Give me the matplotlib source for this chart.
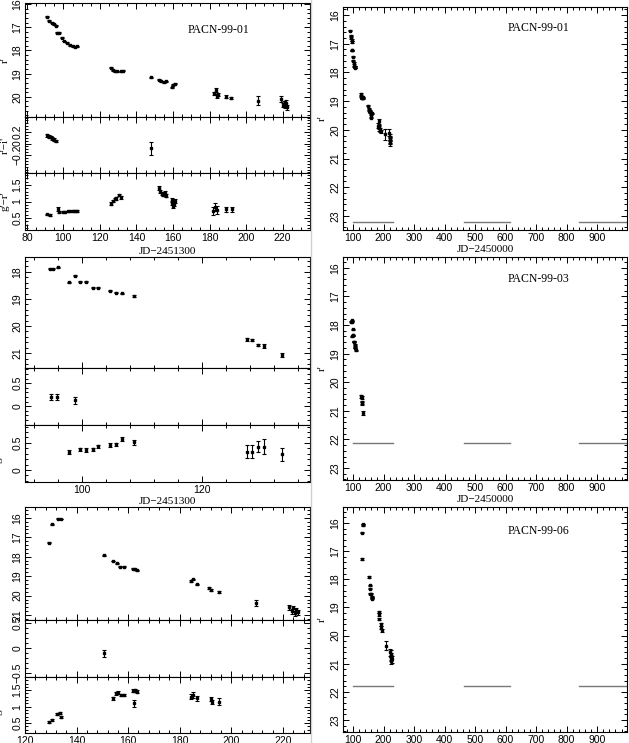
import matplotlib
matplotlib.use('Agg')
import matplotlib.pyplot as plt
from matplotlib.ticker import MultipleLocator, FixedLocator, FuncFormatter
from matplotlib.lines import Line2D

# ---------------- data ----------------
# PACN-99-01
t01 = [90.9, 92.3, 93.6, 94.9, 96.0, 96.7, 97.8, 99.1, 100.4, 101.8, 103.6, 105.1, 106.4, 107.6,
       125.8, 126.9, 128.2, 129.5, 131.3, 132.4,
       148.2, 152.4, 153.7, 155.0, 156.1, 159.2, 160.1, 161.0,
       182.5, 183.5, 184.0, 184.5, 189.0, 192.0, 206.3,
       219.0, 220.0, 221.0, 221.5, 222.0, 222.5]
r01 = [16.54, 16.72, 16.80, 16.87, 16.94, 17.23, 17.23, 17.45, 17.59, 17.67, 17.78, 17.81, 17.83, 17.81,
       18.75, 18.85, 18.90, 18.90, 18.90, 18.87,
       19.16, 19.26, 19.33, 19.38, 19.33, 19.58, 19.48, 19.43,
       19.85, 19.70, 19.95, 19.90, 20.00, 20.05, 20.16,
       20.10, 20.35, 20.30, 20.40, 20.25, 20.45]
r01_err = [0.02] * 28 + [0.08, 0.08, 0.08, 0.08, 0.06, 0.06, 0.18, 0.12, 0.1, 0.1, 0.1, 0.1, 0.1]

ti01 = [91.0, 92.0, 93.0, 94.0, 95.0, 96.0, 148.2]
ri01 = [0.14, 0.12, 0.11, 0.09, 0.07, 0.05, -0.085]
ri01_err = [0.02, 0.02, 0.02, 0.02, 0.02, 0.02, 0.115]

tg01 = [91.3, 92.6, 96.9, 97.8, 99.6, 101.1, 102.4, 103.6, 105.1, 106.4, 107.6,
        126.0, 126.9, 128.2, 128.7, 130.5, 131.3,
        152.3, 153.0, 153.9, 154.8, 155.7, 156.3, 159.2, 159.7, 160.1, 160.5, 161.0,
        182.0, 183.0, 184.0, 189.1, 192.2]
gr01 = [0.61, 0.59, 0.76, 0.68, 0.69, 0.69, 0.70, 0.70, 0.71, 0.71, 0.71,
        0.93, 1.01, 1.08, 1.10, 1.20, 1.13,
        1.41, 1.31, 1.24, 1.21, 1.26, 1.18, 1.06, 0.96, 0.86, 0.91, 1.01,
        0.70, 0.82, 0.75, 0.76, 0.76]
gr01_err = [0.02, 0.02, 0.06] + [0.02] * 8 + [0.04] * 6 + [0.05] * 6 + [0.06] * 5 + [0.12, 0.12, 0.12, 0.08, 0.08]

# PACN-99-03
t03 = [94.7, 95.1, 96.0, 97.8, 98.9, 99.7, 100.7, 101.8, 102.7, 104.7, 105.7, 106.7, 108.6,
       127.5, 128.3, 129.3, 130.3, 133.4]
r03 = [17.89, 17.89, 17.83, 18.39, 18.15, 18.36, 18.36, 18.58, 18.58, 18.69, 18.77, 18.79, 18.89,
       20.49, 20.52, 20.70, 20.74, 21.07]
r03_err = [0.02] * 13 + [0.05, 0.05, 0.05, 0.06, 0.08]

ti03 = [94.8, 95.8, 98.9]
ri03 = [0.20, 0.20, 0.13]
ri03_err = [0.06, 0.06, 0.08]

tg03 = [97.8, 99.7, 100.7, 101.8, 102.7, 104.7, 105.7, 106.7, 108.6, 127.5, 128.3, 129.3, 130.3, 133.4]
gr03 = [0.335, 0.38, 0.37, 0.385, 0.44, 0.46, 0.475, 0.57, 0.51, 0.335, 0.335, 0.43, 0.43, 0.29]
gr03_err = [0.03] * 7 + [0.04, 0.04, 0.12, 0.12, 0.10, 0.14, 0.12]

# PACN-99-06
t06 = [129.4, 130.6, 132.9, 133.9, 150.6, 154.2, 155.7, 157.0, 158.3, 161.7, 162.6, 163.5,
       184.5, 185.1, 186.5, 191.3, 192.3, 195.2, 209.4,
       222.5, 223.5, 224.0, 224.5, 225.0, 226.0]
r06 = [17.28, 16.34, 16.05, 16.07, 17.92, 18.22, 18.34, 18.51, 18.51, 18.62, 18.65, 18.69,
       19.25, 19.16, 19.42, 19.60, 19.72, 19.82, 20.36,
       20.60, 20.80, 20.65, 20.90, 20.75, 20.85]
r06_err = [0.02] * 12 + [0.04, 0.04, 0.04, 0.05, 0.05, 0.05, 0.15] + [0.12] * 6

ti06 = [150.6]
ri06 = [-0.10]
ri06_err = [0.07]

tg06 = [129.4, 130.5, 132.5, 133.4, 134.0, 154.2, 155.2, 156.2, 157.1, 158.4, 161.7, 162.6, 163.5,
        162.4, 184.5, 185.1, 186.5, 192.0, 192.5, 195.2]
gr06 = [0.52, 0.58, 0.78, 0.80, 0.70, 1.25, 1.40, 1.42, 1.35, 1.35, 1.48, 1.50, 1.45,
        1.10, 1.30, 1.35, 1.25, 1.22, 1.14, 1.15]
gr06_err = [0.03] * 5 + [0.04] * 5 + [0.05] * 3 + [0.10, 0.08, 0.08, 0.08, 0.06, 0.06, 0.10]

# limiting magnitudes and observing seasons
limits = [23.2, 22.13, 21.8]
season_start = [100, 465, 840]
season_end = [230, 615, 1000]
names = ['PACN-99-01', 'PACN-99-03', 'PACN-99-06']

# ---------------- figure ----------------
W, H = 629, 743
fig = plt.figure(figsize=(W / 100, H / 100), dpi=100)
SERIF = 'Liberation Serif'
TICKFONT = 'Liberation Sans'


def ax_px(l, t, r, b):
    return fig.add_axes([l / W, 1 - b / H, (r - l) / W, (b - t) / H])


def fmt(v, pos):
    if abs(v) < 1e-9:
        return '0'
    return ('%g' % v).replace('-', '\u2212')


def style(ax, xlim, xmaj, xmin, ylim, yticks, ymin, xlabels):
    ax.set_xlim(*xlim)
    ax.set_ylim(*ylim)
    ax.xaxis.set_major_locator(MultipleLocator(xmaj))
    ax.xaxis.set_minor_locator(MultipleLocator(xmin))
    ax.yaxis.set_major_locator(FixedLocator(yticks))
    ax.yaxis.set_minor_locator(MultipleLocator(ymin))
    ax.xaxis.set_major_formatter(FuncFormatter(fmt))
    ax.yaxis.set_major_formatter(FuncFormatter(fmt))
    ax.tick_params(which='both', direction='in', top=True, right=True, width=0.7,
                   labelsize=7.5, pad=2)
    ax.tick_params(which='major', length=4.5)
    ax.tick_params(which='minor', length=2.2)
    ax.tick_params(axis='y', labelrotation=90)
    if not xlabels:
        ax.tick_params(axis='x', labelbottom=False)
    for lab in ax.get_yticklabels():
        lab.set_va('center')
        lab.set_family(TICKFONT)
    for lab in ax.get_xticklabels():
        lab.set_family(TICKFONT)
    for s in ax.spines.values():
        s.set_linewidth(0.8)


def pts(ax, t, v, e):
    ax.errorbar(t, v, yerr=e, fmt='s', ms=2.0, mfc='k', mec='k', ecolor='k',
                elinewidth=0.8, capsize=1.4, capthick=0.8, lw=0)


# left-column layout (pixel boxes) and axis settings
left_rows = [
    dict(boxes=[(25, 3, 310, 117), (25, 117, 310, 173), (25, 173, 310, 230)],
         xlim=(79, 235), xmaj=20, xmin=5,
         ylims=[(20.87, 15.95), (-0.51, 0.46), (0.14, 1.86)],
         yticks=[[16, 17, 18, 19, 20], [-0.2, 0, 0.2], [0.5, 1, 1.5]],
         ymins=[0.2, 0.05, 0.1],
         data=[(t01, r01, r01_err), (ti01, ri01, ri01_err), (tg01, gr01, gr01_err)],
         label=True, xlab_y=252, lab_x=5),
    dict(boxes=[(25, 257, 310, 368), (25, 368, 310, 425), (25, 425, 310, 482)],
         xlim=(90.5, 138), xmaj=20, xmin=4,
         ylims=[(21.55, 17.45), (-0.41, 0.83), (-0.22, 0.83)],
         yticks=[[18, 19, 20, 21], [0, 0.5], [0, 0.5]],
         ymins=[0.2, 0.1, 0.1],
         data=[(t03, r03, r03_err), (ti03, ri03, ri03_err), (tg03, gr03, gr03_err)],
         label=False, xlab_y=501, lab_x=-2),
    dict(boxes=[(25, 507, 310, 620), (25, 620, 310, 677), (25, 677, 310, 733)],
         xlim=(120, 230.5), xmaj=20, xmin=4,
         ylims=[(21.25, 15.45), (-0.58, 0.56), (0.2, 1.9)],
         yticks=[[16, 17, 18, 19, 20, 21], [-0.5, 0, 0.5], [0.5, 1, 1.5]],
         ymins=[0.2, 0.1, 0.1],
         data=[(t06, r06, r06_err), (ti06, ri06, ri06_err), (tg06, gr06, gr06_err)],
         label=False, xlab_y=None, lab_x=-2),
]

ylabels = ["r'", "r'\u2212i'", "g'\u2212r'"]
for i, row in enumerate(left_rows):
    for j in range(3):
        ax = ax_px(*row['boxes'][j])
        t, v, e = row['data'][j]
        pts(ax, t, v, e)
        style(ax, row['xlim'], row['xmaj'], row['xmin'], row['ylims'][j],
              row['yticks'][j], row['ymins'][j], xlabels=(j == 2))
        l, tp, r, b = row['boxes'][j]
        fig.text(row['lab_x'] / W, 1 - ((tp + b) / 2) / H, ylabels[j], rotation=90,
                 ha='center', va='center', fontsize=8, family=SERIF)
        if j == 0 and row['label']:
            ax.text(0.68, 0.76, names[i], transform=ax.transAxes, ha='center',
                    va='center', fontsize=8.5, family=SERIF)
    if row['xlab_y'] is not None:
        fig.text(167.5 / W, 1 - row['xlab_y'] / H, 'JD\u22122451300', ha='center',
                 va='center', fontsize=8, family=SERIF)

# right column
right_boxes = [(343, 7, 627, 230), (343, 257, 627, 480), (343, 507, 627, 732)]
right_ylims = [(23.49, 15.72), (23.42, 15.62), (23.43, 15.43)]
right_data = [(t01, r01, r01_err), (t03, r03, r03_err), (t06, r06, r06_err)]
right_name_y = [0.906, 0.9, 0.893]
right_xlab_y = [250, 500, None]
for i in range(3):
    ax = ax_px(*right_boxes[i])
    t, v, e = right_data[i]
    pts(ax, t, v, e)
    for s0, s1 in zip(season_start, season_end):
        ax.plot([s0, s1], [limits[i], limits[i]], color='#777777', lw=1.0)
    style(ax, (67, 998), 100, 20, right_ylims[i], list(range(16, 24)), 0.2, xlabels=True)
    ax.text(0.69, right_name_y[i], names[i], transform=ax.transAxes, ha='center',
            va='center', fontsize=8.5, family=SERIF)
    l, tp, r, b = right_boxes[i]
    fig.text(322 / W, 1 - ((tp + b) / 2) / H, "r'", rotation=90, ha='center',
             va='center', fontsize=8, family=SERIF)
    if right_xlab_y[i] is not None:
        fig.text(485 / W, 1 - right_xlab_y[i] / H, 'JD\u22122450000', ha='center',
                 va='center', fontsize=8, family=SERIF)

# scan seam between the two halves
fig.add_artist(Line2D([311 / W, 311 / W], [0, 1], color='#d0d0d0', lw=1.0,
                      transform=fig.transFigure))

fig.savefig('out.png', dpi=100)
